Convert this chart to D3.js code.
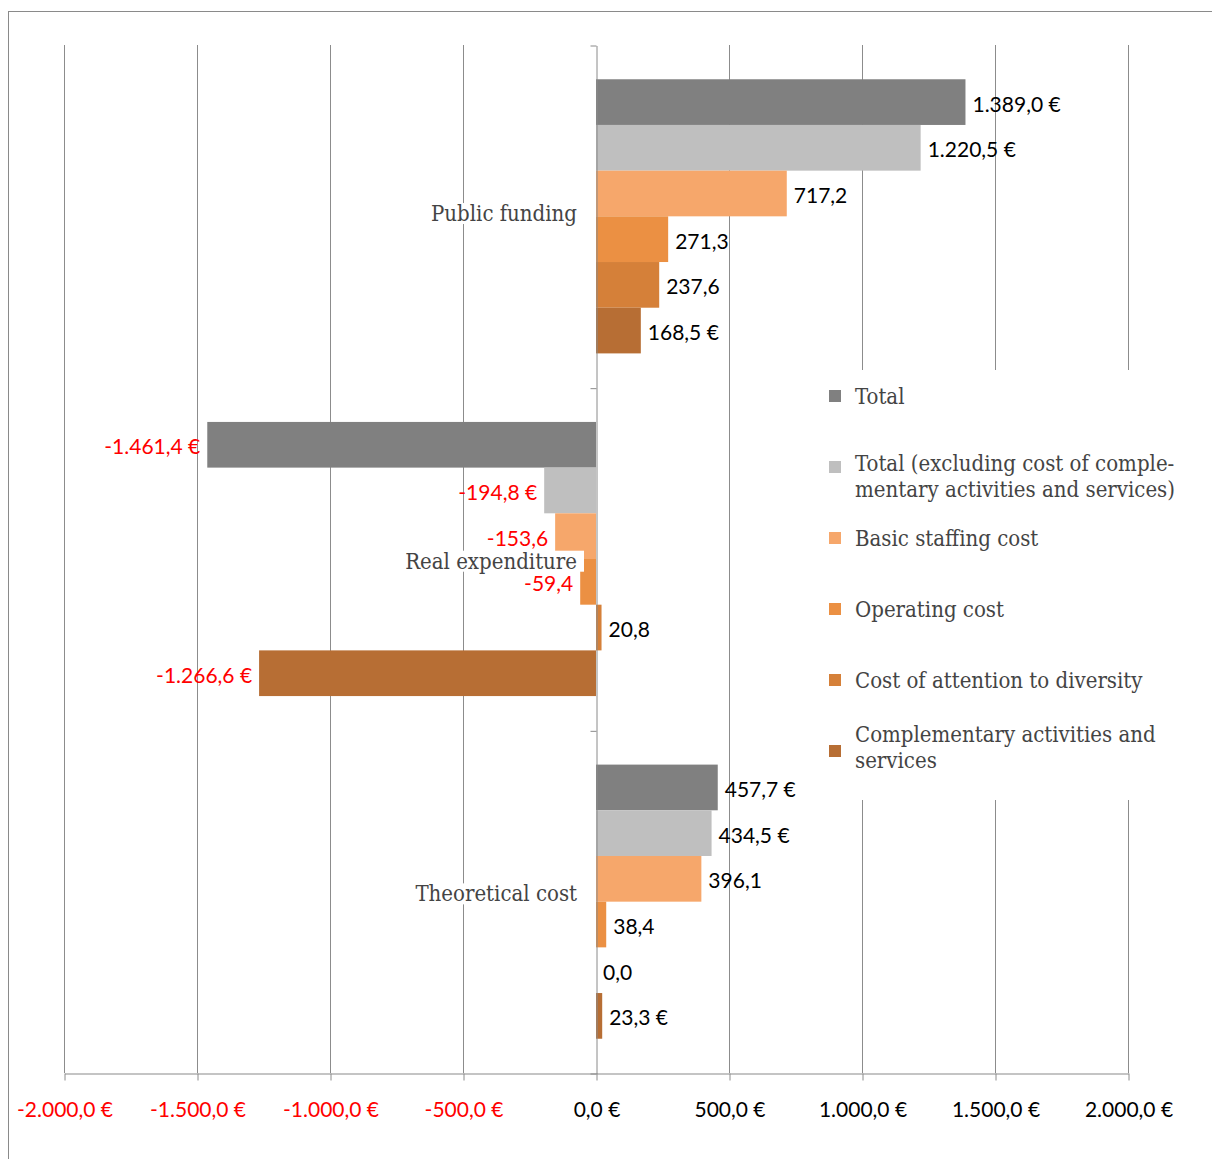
<!DOCTYPE html>
<html>
<head>
<meta charset="utf-8">
<script src="https://cdn.jsdelivr.net/npm/d3@7"></script>
<style>
  body { margin: 0; background: #fff; }
  svg { display: block; }
</style>
</head>
<body>
<script>
// categories (top to bottom) and series
var categories = ["Public funding", "Real expenditure", "Theoretical cost"];
var seriesNames = ["Total",
                   "Total (excluding cost of comple-|mentary activities and services)",
                   "Basic staffing cost",
                   "Operating cost",
                   "Cost of attention to diversity",
                   "Complementary activities and|services"];
var seriesColors = ["#808080", "#bfbfbf", "#f6a76b", "#eb9043", "#d58039", "#b76e34"];
// which series print the euro sign on their labels
var seriesEuro = [true, true, false, false, false, true];

var publicFunding   = [1389.0, 1220.5, 717.2, 271.3, 237.6, 168.5];
var realExpenditure = [-1461.4, -194.8, -153.6, -59.4, 20.8, -1266.6];
var theoreticalCost = [457.7, 434.5, 396.1, 38.4, 0.0, 23.3];
var values = [publicFunding, realExpenditure, theoreticalCost];

var tickValues = [-2000, -1500, -1000, -500, 0, 500, 1000, 1500, 2000];

var width = 1212, height = 1159;
var plot = {left: 64, right: 1128, top: 45, bottom: 1073};
// small vertical nudges of the category labels, as in the original layout
var catLabelShift = [-3, 2, -8];

var numFont = "Lato, 'Open Sans', sans-serif";
var serifFont = "'DejaVu Serif Condensed', 'DejaVu Serif', serif";

var loc = d3.formatLocale({decimal: ",", thousands: ".", grouping: [3], currency: ["", " €"], minus: "-"});
var fmt = loc.format(",.1f");

var svg = d3.select("body").append("svg")
    .attr("width", width)
    .attr("height", height);

// outer frame (runs off the picture to the right and bottom)
svg.append("rect")
    .attr("x", 8.5).attr("y", 11.5)
    .attr("width", 1400).attr("height", 1400)
    .attr("fill", "none")
    .attr("stroke", "#8a8a8a");

var x = d3.scaleLinear().domain([-2000, 2000]).range([plot.left, plot.right]);
var y = d3.scaleBand().domain(categories).range([plot.top, plot.bottom]).paddingInner(0).paddingOuter(0);
var ySub = d3.scaleBand().domain(d3.range(seriesNames.length))
    .range([y.bandwidth() * 0.1, y.bandwidth() * 0.9]);

// gridlines
svg.append("g").selectAll("line")
    .data(tickValues.filter(function(d){ return d !== 0; }))
    .enter().append("line")
    .attr("x1", function(d){ return Math.round(x(d)) + 0.5; })
    .attr("x2", function(d){ return Math.round(x(d)) + 0.5; })
    .attr("y1", plot.top).attr("y2", plot.bottom)
    .attr("stroke", "#8c8c8c");

// bottom axis
var xAxis = svg.append("g")
    .attr("transform", "translate(0.5," + (plot.bottom + 0.5) + ")")
    .call(d3.axisBottom(x).tickValues(tickValues).tickSize(7).tickSizeOuter(0)
        .tickFormat(function(d){ return fmt(d) + " €"; }));
xAxis.select(".domain").attr("stroke", "#c4c4c4").attr("stroke-width", 2);
xAxis.selectAll(".tick line").attr("stroke", "#8c8c8c");
xAxis.selectAll(".tick text")
    .attr("y", 36).attr("dy", "0.38em")
    .style("font-family", numFont).style("font-size", "21px")
    .attr("fill", function(d){ return d < 0 ? "#ff0000" : "#000"; });

// bars
var groups = svg.append("g").selectAll("g")
    .data(categories)
    .enter().append("g")
    .attr("transform", function(c){ return "translate(0," + y(c) + ")"; });

groups.selectAll("rect")
    .data(function(c, ci){ return values[ci].map(function(v, si){ return {v: v, s: si}; }); })
    .enter().append("rect")
    .attr("x", function(d){ return x(Math.min(0, d.v)); })
    .attr("y", function(d){ return ySub(d.s); })
    .attr("width", function(d){ return Math.abs(x(d.v) - x(0)); })
    .attr("height", ySub.bandwidth())
    .attr("fill", function(d){ return seriesColors[d.s]; });

// zero axis with ticks at category boundaries
var yAxis = svg.append("g")
    .attr("transform", "translate(" + (Math.round(x(0)) + 0.5) + ",0.5)")
    .call(d3.axisLeft(d3.scaleLinear().domain([0, 3]).range([plot.top, plot.bottom]))
        .ticks(3).tickSize(6).tickSizeOuter(0).tickFormat(""));
yAxis.select(".domain").attr("stroke", "#8a8a8a");
yAxis.selectAll(".tick line").attr("stroke", "#8a8a8a");

// category labels with white backing
var catLabels = svg.append("g").selectAll("g")
    .data(categories)
    .enter().append("g")
    .attr("transform", function(c, i){ return "translate(577," + (y(c) + y.bandwidth() / 2 + catLabelShift[i]) + ")"; });
catLabels.append("text")
    .attr("text-anchor", "end")
    .attr("dy", "0.35em")
    .style("font-family", serifFont).style("font-size", "22px")
    .attr("fill", "#444")
    .text(function(c){ return c; })
    .each(function(){ this.__bb = this.getBBox(); });
catLabels.insert("rect", "text")
    .attr("x", function(){ return this.parentNode.querySelector("text").__bb.x - 3; })
    .attr("y", function(){ return this.parentNode.querySelector("text").__bb.y + 2; })
    .attr("width", function(){ return this.parentNode.querySelector("text").__bb.width + 10; })
    .attr("height", function(){ return this.parentNode.querySelector("text").__bb.height - 4; })
    .attr("fill", "#fff");

// value labels
groups.selectAll("text.val")
    .data(function(c, ci){ return values[ci].map(function(v, si){ return {v: v, s: si}; }); })
    .enter().append("text")
    .attr("class", "val")
    .attr("x", function(d){ return d.v < 0 ? x(d.v) - 7 : x(d.v) + 7; })
    .attr("y", function(d){ return ySub(d.s) + ySub.bandwidth() / 2; })
    .attr("dy", "0.45em")
    .attr("text-anchor", function(d){ return d.v < 0 ? "end" : "start"; })
    .style("font-family", numFont).style("font-size", "21px")
    .attr("fill", function(d){ return d.v < 0 ? "#ff0000" : "#000"; })
    .text(function(d){ return fmt(d.v) + (seriesEuro[d.s] ? " €" : ""); });

// legend
var legend = svg.append("g");
legend.append("rect")
    .attr("x", 815).attr("y", 370).attr("width", 380).attr("height", 430)
    .attr("fill", "#fff");
var legItems = legend.selectAll("g.item")
    .data(seriesNames)
    .enter().append("g")
    .attr("class", "item")
    .attr("transform", function(d, i){ return "translate(829," + (396 + i * 71) + ")"; });
legItems.append("rect")
    .attr("x", 0).attr("y", -6).attr("width", 12).attr("height", 12)
    .attr("fill", function(d, i){ return seriesColors[i]; });
legItems.append("text")
    .style("font-family", serifFont).style("font-size", "22px")
    .attr("fill", "#444")
    .each(function(d, i){
        var lines = d.split("|");
        var first = lines.length === 1 ? 0 : (i === 1 ? -4 : -17);
        d3.select(this).selectAll("tspan")
            .data(lines)
            .enter().append("tspan")
            .attr("x", 26)
            .attr("y", function(l, j){ return first + j * 26; })
            .attr("dy", "0.38em")
            .text(function(l){ return l; });
    });
</script>
</body>
</html>
